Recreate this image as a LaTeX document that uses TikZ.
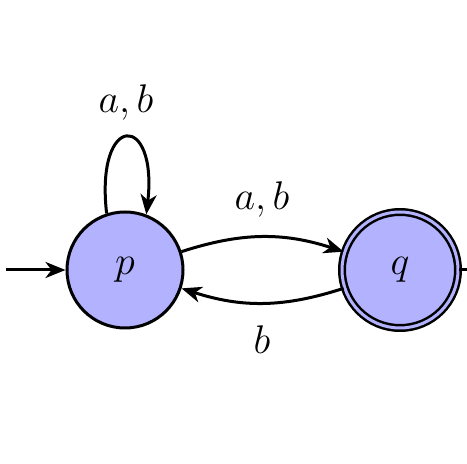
\RequirePackage{fix-cm}
\documentclass[tikz,border=0pt]{standalone}
\usetikzlibrary{arrows.meta}
\begin{document}
\begin{tikzpicture}[x=1pt,y=1pt,line width=3pt,
  font=\fontsize{40}{48}\selectfont,
  >={Stealth[length=20pt,width=16pt,inset=6pt]},
  state/.style={circle,draw,line width=3pt,fill=blue!30,minimum size=116pt,inner sep=0pt},
  accstate/.style={state,minimum size=116pt,line width=2.5pt,double=blue!30,double distance=3pt},
  edgeline/.style={line width=3pt},
  lbl/.style={inner sep=0pt}]
\useasboundingbox (0,0) rectangle (467,464);
\node[state] (p) at (125,194) {$p$};
\node[accstate] (q) at (400,194) {$q$};
\coordinate (init) at (6,194);
\coordinate (fin) at (480,194);
\draw[edgeline,->] (init) -- (p);
\draw[edgeline] (q.east) -- (fin);
\draw[edgeline,->] (p.108) .. controls (95,352) and (158,352) .. (p.69);
\node[lbl] at (126,361) {$a,b$};
\draw[edgeline,->] (p) to[bend left=18] (q);
\node[lbl] at (262,264) {$a,b$};
\draw[edgeline,->] (q) to[bend left=18] (p);
\node[lbl] at (262,124) {$b$};
\end{tikzpicture}
\end{document}
